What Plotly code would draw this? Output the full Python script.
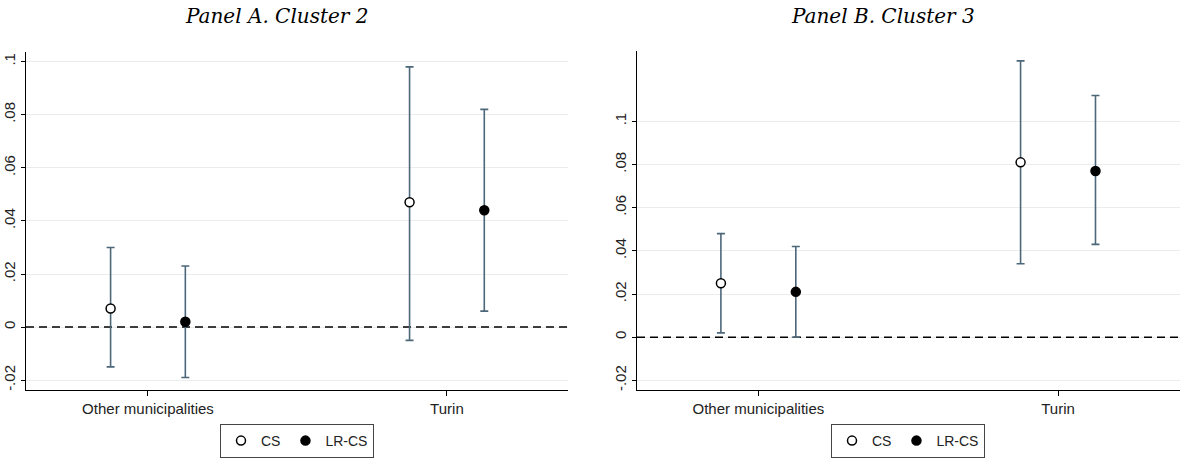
import plotly.graph_objects as go

# ---- data ----
categories = ["Other municipalities", "Turin"]
series = ["CS", "LR-CS"]

# Panel A. Cluster 2
a_cs_est = [0.007, 0.047]
a_cs_lo = [-0.015, -0.005]
a_cs_hi = [0.030, 0.098]
a_lr_est = [0.002, 0.044]
a_lr_lo = [-0.019, 0.006]
a_lr_hi = [0.023, 0.082]

# Panel B. Cluster 3
b_cs_est = [0.025, 0.081]
b_cs_lo = [0.002, 0.034]
b_cs_hi = [0.048, 0.128]
b_lr_est = [0.021, 0.077]
b_lr_lo = [0.000, 0.043]
b_lr_hi = [0.042, 0.112]

a_ticks = [-0.02, 0, 0.02, 0.04, 0.06, 0.08, 0.1]
a_ticktext = ["-.02", "0", ".02", ".04", ".06", ".08", ".1"]
b_ticks = [-0.02, 0, 0.02, 0.04, 0.06, 0.08, 0.1]
b_ticktext = ["-.02", "0", ".02", ".04", ".06", ".08", ".1"]

titles = ["Panel A. Cluster 2", "Panel B. Cluster 3"]

# ---- style / layout helpers ----
BAR = "#4d677a"
OFFSET = 0.125
FONT = "Liberation Sans, Arial, sans-serif"
W, H = 1183, 458
XR_A = [0.592, 2.405]
XR_B = [0.595, 2.407]


def px(x):
    return x / W


def py(y):
    return 1 - y / H


fig = go.Figure()

panels = [
    ("x", "y", "legend", XR_A, a_cs_est, a_cs_lo, a_cs_hi, a_lr_est, a_lr_lo, a_lr_hi),
    ("x2", "y2", "legend2", XR_B, b_cs_est, b_cs_lo, b_cs_hi, b_lr_est, b_lr_lo, b_lr_hi),
]

xpos = list(range(1, len(categories) + 1))

for xa, ya, lg, xr, cs_e, cs_l, cs_h, lr_e, lr_l, lr_h in panels:
    # dashed reference line at zero (drawn first, so it sits under the estimates)
    fig.add_trace(go.Scatter(
        x=xr, y=[0, 0], mode="lines", xaxis=xa, yaxis=ya, showlegend=False,
        hoverinfo="skip", line=dict(color="black", width=1.5, dash="8px,5px"),
    ))
    for name, est, lo, hi, dx, fill in [
        (series[0], cs_e, cs_l, cs_h, -OFFSET, "white"),
        (series[1], lr_e, lr_l, lr_h, OFFSET, "black"),
    ]:
        fig.add_trace(go.Scatter(
            x=[p + dx for p in xpos], y=est, mode="markers", name=name,
            xaxis=xa, yaxis=ya, legend=lg,
            marker=dict(symbol="circle", size=9, color=fill,
                        line=dict(color="black", width=1.5)),
            error_y=dict(type="data", symmetric=False,
                         array=[h - e for h, e in zip(hi, est)],
                         arrayminus=[e - l for e, l in zip(est, lo)],
                         color=BAR, thickness=1.6, width=4),
        ))

axis_common = dict(
    showgrid=False, zeroline=False, showline=True, linecolor="black", linewidth=1,
    ticks="outside", ticklen=5, tickcolor="black",
    tickvals=xpos, ticktext=categories,
    tickfont=dict(family=FONT, size=15, color="#222"),
)
yaxis_common = dict(
    showgrid=True, gridcolor="#ececec", gridwidth=1, zeroline=False,
    showline=True, linecolor="black", linewidth=1,
    ticks="outside", ticklen=4, tickcolor="black", tickangle=-90,
    tickfont=dict(family=FONT, size=15, color="#222"),
)

legend_common = dict(
    orientation="h", xanchor="center", y=py(426), yanchor="top",
    bordercolor="#444", borderwidth=1, bgcolor="white",
    font=dict(family=FONT, size=14, color="#222"),
    itemwidth=30, tracegroupgap=0,
)

fig.update_layout(
    width=W, height=H, autosize=False,
    margin=dict(l=0, r=0, t=0, b=0),
    paper_bgcolor="white", plot_bgcolor="white",
    xaxis=dict(domain=[px(26), px(568)], range=XR_A, **axis_common),
    xaxis2=dict(domain=[px(637), px(1180)], range=XR_B, **axis_common),
    yaxis=dict(domain=[py(392), py(52)], range=[-0.0238, 0.1037], anchor="x",
               tickvals=a_ticks, ticktext=a_ticktext, **yaxis_common),
    yaxis2=dict(domain=[py(392), py(51)], range=[-0.0246, 0.1327], anchor="x2",
                tickvals=b_ticks, ticktext=b_ticktext, **yaxis_common),
    legend=dict(x=px(297), **legend_common),
    legend2=dict(x=px(908), **legend_common),
    showlegend=True,
)

for txt, xc in zip(titles, [276, 883]):
    fig.add_annotation(text=f"<i>{txt}</i>", xref="paper", yref="paper",
                       x=px(xc), y=py(16), xanchor="center", yanchor="middle",
                       showarrow=False,
                       font=dict(family="DejaVu Serif, serif", size=20, color="black"))

fig.write_html("out.html", config={"displayModeBar": False},
               post_script="document.body.style.margin='0px';")
